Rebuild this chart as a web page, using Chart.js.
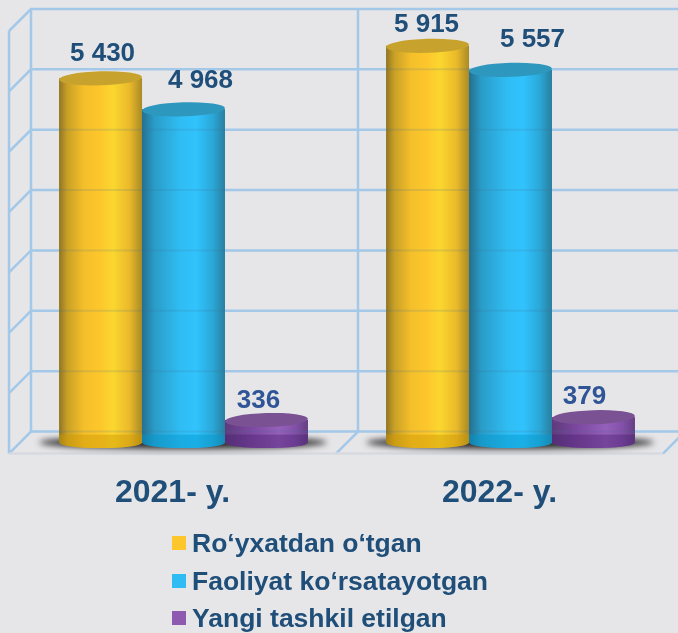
<!DOCTYPE html>
<html>
<head>
<meta charset="utf-8">
<title>Chart</title>
<script src="https://cdn.jsdelivr.net/npm/chart.js@4/dist/chart.umd.js"></script>
<style>
  html, body { margin: 0; padding: 0; background: #e6e6e9; overflow: hidden; }
  #wrap { position: relative; width: 678px; height: 633px; }
  #legend { position: absolute; left: 172px; top: 524px; font: bold 26.5px "Liberation Sans", Arial, sans-serif; color: #1f4e79; }
  #legend div { height: 37.5px; line-height: 38px; white-space: nowrap; }
  #legend i { display: inline-block; width: 14px; height: 14px; margin-right: 6px; vertical-align: 2px; }
</style>
</head>
<body>
<div id="wrap">
  <canvas id="myChart" width="678" height="633"></canvas>
  <div id="legend"></div>
</div>
<script>
var categories = ['2021- y.', '2022- y.'];
var registered = [5430, 5915];
var active = [4968, 5557];
var created = [336, 379];
var seriesNames = ['Ro‘yxatdan o‘tgan', 'Faoliyat ko‘rsatayotgan', 'Yangi tashkil etilgan'];
var seriesColors = ['#fdc72c', '#2ebcf3', '#8e5ab0'];

// where each value label sits relative to the top of its bar, [dx, dy]
var labelShift = [
  [[2, -25], [17, -29], [-8, -19]],
  [[-1, -21], [22, -30], [-9, -20]]
];

var capColors = ['#c7a32d', '#2e97bd', '#7a5294'];
var bandColors = ['rgba(205,150,0,0.45)', 'rgba(0,150,205,0.45)', 'rgba(70,30,110,0.4)'];
var bodyStops = [
  [[0, '#8f7526'], [0.1, '#c9a026'], [0.3, '#f5bf2a'], [0.5, '#fdc72c'], [0.65, '#fbd72f'], [0.85, '#eab92a'], [1, '#a98a26']],
  [[0, '#256f8e'], [0.15, '#2a9cc8'], [0.45, '#2fbcf2'], [0.65, '#31c3fe'], [0.85, '#2aa8d8'], [1, '#2a7f9f']],
  [[0, '#5f3a7c'], [0.3, '#7c479f'], [0.65, '#9560ba'], [0.85, '#8350a8'], [1, '#653f84']]
];

var depth = 11;      // half of the floor depth, px
var capRadius = 7;
var gridColor = '#a3c8e8';

function money(v) {
  return String(v).replace(/\B(?=(\d{3})+$)/g, ' ');
}

// the box behind the bars, taken from the y scale ticks
var wallPlugin = {
  id: 'walls',
  beforeDatasetsDraw: function (chart) {
    var c = chart.ctx, a = chart.chartArea, y = chart.scales.y;
    var mid = (a.left + a.right) / 2;
    c.save();
    c.strokeStyle = gridColor;
    c.lineWidth = 2.5;
    y.ticks.forEach(function (t) {
      var p = y.getPixelForValue(t.value);
      c.beginPath();
      c.moveTo(a.left - depth, p + depth);
      c.lineTo(a.left + depth, p - depth);
      c.lineTo(678, p - depth);
      c.stroke();
    });
    c.beginPath();
    c.moveTo(a.left - depth, a.top + depth);
    c.lineTo(a.left - depth, a.bottom + depth);
    c.moveTo(a.left + depth, a.top - depth);
    c.lineTo(a.left + depth, a.bottom - depth);
    c.moveTo(mid + depth, a.top - depth);
    c.lineTo(mid + depth, a.bottom - depth);
    c.moveTo(mid + depth, a.bottom - depth);
    c.lineTo(mid - depth, a.bottom + depth);
    c.moveTo(a.right + depth, a.bottom - depth);
    c.lineTo(a.right - depth, a.bottom + depth);
    c.stroke();
    c.strokeStyle = '#d6dae0';
    c.beginPath();
    c.moveTo(a.left - depth, a.bottom + depth);
    c.lineTo(a.right - depth, a.bottom + depth);
    c.stroke();
    // shadow on the floor under each group
    c.fillStyle = 'rgba(25,25,25,0.9)';
    c.filter = 'blur(3px)';
    categories.forEach(function (name, i) {
      var first = chart.getDatasetMeta(0).data[i];
      var last = chart.getDatasetMeta(2).data[i];
      var left = first.x - first.width / 2 - 20;
      var right = last.x + last.width / 2 + 19;
      c.beginPath();
      c.ellipse((left + right) / 2, a.bottom, (right - left) / 2, 6.5, 0, 0, Math.PI * 2);
      c.fill();
    });
    c.restore();
  }
};

function drawCylinder(c, bar, s) {
  var left = bar.x - bar.width / 2, right = bar.x + bar.width / 2;
  var rx = bar.width / 2, top = bar.y, base = bar.base;
  var g = c.createLinearGradient(left, 0, right, 0);
  bodyStops[s].forEach(function (st) { g.addColorStop(st[0], st[1]); });

  c.beginPath();
  c.moveTo(left, top);
  c.lineTo(left, base);
  c.ellipse(bar.x, base, rx, capRadius - 1.5, 0, Math.PI, 0, true);
  c.lineTo(right, top);
  c.closePath();
  c.fillStyle = g;
  c.fill();

  // darker band at the foot
  c.save();
  c.clip();
  c.fillStyle = bandColors[s];
  c.fillRect(left, base - 8, bar.width, capRadius + 8);
  c.restore();

  c.beginPath();
  c.ellipse(bar.x, top, rx, capRadius, -0.03, 0, Math.PI * 2);
  c.fillStyle = capColors[s];
  c.fill();
}

var cylinderPlugin = {
  id: 'cylinders',
  afterDatasetsDraw: function (chart) {
    var c = chart.ctx, y = chart.scales.y;
    c.save();
    chart.data.datasets.forEach(function (ds, s) {
      chart.getDatasetMeta(s).data.forEach(function (bar) {
        drawCylinder(c, bar, s);
      });
    });
    // the grid shows faintly through the bars
    c.strokeStyle = 'rgba(60,110,150,0.16)';
    c.lineWidth = 2;
    y.ticks.forEach(function (t) {
      var p = y.getPixelForValue(t.value) - depth;
      chart.data.datasets.forEach(function (ds, s) {
        chart.getDatasetMeta(s).data.forEach(function (bar) {
          if (p > bar.y + capRadius) {
            c.beginPath();
            c.moveTo(bar.x - bar.width / 2, p);
            c.lineTo(bar.x + bar.width / 2, p);
            c.stroke();
          }
        });
      });
    });
    // value labels
    c.font = 'bold 26px "Liberation Sans", Arial, sans-serif';
    c.textAlign = 'center';
    c.textBaseline = 'middle';
    chart.data.datasets.forEach(function (ds, s) {
      c.fillStyle = s === 2 ? '#2f5597' : '#1f4e79';
      chart.getDatasetMeta(s).data.forEach(function (bar, i) {
        var d = labelShift[i][s];
        c.fillText(money(ds.data[i]), bar.x + d[0], bar.y + d[1]);
      });
    });
    c.restore();
  }
};

var ctx = document.getElementById('myChart').getContext('2d');
var chart = new Chart(ctx, {
  type: 'bar',
  data: {
    labels: categories,
    datasets: [
      { label: seriesNames[0], data: registered, backgroundColor: seriesColors[0] },
      { label: seriesNames[1], data: active, backgroundColor: seriesColors[1] },
      { label: seriesNames[2], data: created, backgroundColor: seriesColors[2] }
    ]
  },
  plugins: [wallPlugin, cylinderPlugin],
  options: {
    responsive: false,
    animation: false,
    layout: { padding: { left: 20, right: 4, top: 20, bottom: 98 } },
    datasets: { bar: { categoryPercentage: 0.761, barPercentage: 1 } },
    plugins: { legend: { display: false }, tooltip: { enabled: false } },
    scales: {
      x: {
        grid: { display: false },
        border: { display: false },
        ticks: {
          color: '#1f4e79',
          padding: 23,
          labelOffset: -11,
          maxRotation: 0,
          font: { family: '"Liberation Sans", Arial, sans-serif', size: 32, weight: 'bold' }
        }
      },
      y: {
        display: false,
        min: 0,
        max: 6300,
        ticks: { stepSize: 900 }
      }
    }
  }
});

document.getElementById('legend').innerHTML = seriesNames.map(function (name, i) {
  return '<div><i style="background:' + seriesColors[i] + '"></i>' + name + '</div>';
}).join('');
</script>
</body>
</html>
